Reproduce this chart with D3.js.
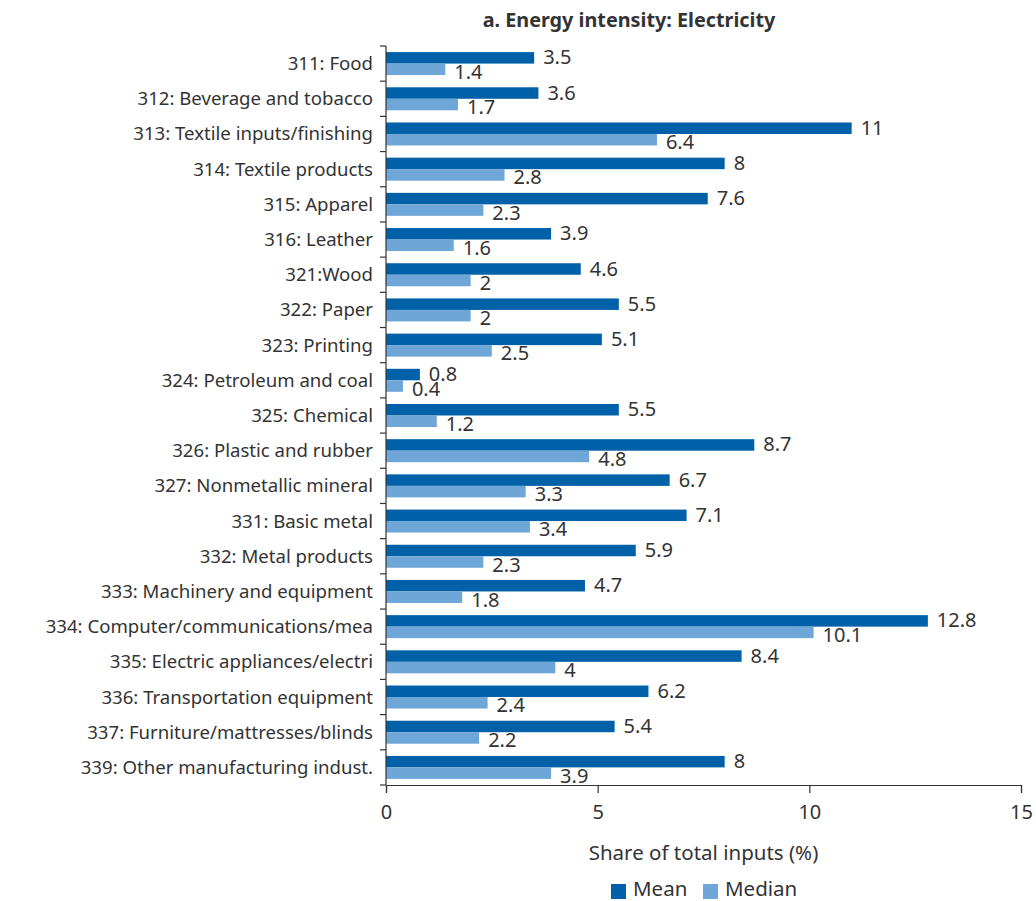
<!DOCTYPE html>
<html><head><meta charset="utf-8">
<script src="https://cdn.jsdelivr.net/npm/d3@7"></script>
<style>body{margin:0;background:#fff;} text{font-family:"Noto Sans",sans-serif;fill:#333;}</style>
</head><body><svg id="c" width="1036" height="901"></svg>
<script>
const categories = ["311: Food","312: Beverage and tobacco","313: Textile inputs/finishing","314: Textile products","315: Apparel","316: Leather","321:Wood","322: Paper","323: Printing","324: Petroleum and coal","325: Chemical","326: Plastic and rubber","327: Nonmetallic mineral","331: Basic metal","332: Metal products","333: Machinery and equipment","334: Computer/communications/mea","335: Electric appliances/electri","336: Transportation equipment","337: Furniture/mattresses/blinds","339: Other manufacturing indust."];
const meanValues = [3.5,3.6,11,8,7.6,3.9,4.6,5.5,5.1,0.8,5.5,8.7,6.7,7.1,5.9,4.7,12.8,8.4,6.2,5.4,8];
const medianValues = [1.4,1.7,6.4,2.8,2.3,1.6,2,2,2.5,0.4,1.2,4.8,3.3,3.4,2.3,1.8,10.1,4,2.4,2.2,3.9];
const seriesNames = ["Mean","Median"];
const seriesColors = ["#0061a8","#6fa6d8"];
const xTicks = [0,5,10,15];
const title = "a. Energy intensity: Electricity";
const xTitle = "Share of total inputs (%)";

const FS_CAT = 18.6, FS_VAL = 20, FS_AX = 20.5;
const svg = d3.select("#c");
const mLeft = 386, mRight = 1021, mTop = 46, mBottom = 785;
const x = d3.scaleLinear().domain([0,15]).range([mLeft,mRight]);
const y = d3.scaleBand().domain(categories).range([mTop,mBottom]).padding(0);
const y1 = d3.scaleBand().domain(seriesNames).range([0,y.bandwidth()]).paddingInner(0).paddingOuter(0.53);

const data = categories.map((c,i)=>({c, vals:[meanValues[i], medianValues[i]]}));

const g = svg.append("g");
const rows = g.selectAll("g.row").data(data).join("g").attr("transform",d=>`translate(0,${y(d.c)})`);
seriesNames.forEach((s,si)=>{
  rows.append("rect").attr("x",x(0)).attr("y",y1(s)).attr("width",d=>x(d.vals[si])-x(0)).attr("height",y1.bandwidth()).attr("fill",seriesColors[si]);
});
seriesNames.forEach((s,si)=>{
  rows.append("text").attr("x",d=>x(d.vals[si])+9).attr("y",y1(s)+y1.bandwidth()/2+(si===0?-0.5:2.5)).attr("dy","0.35em").attr("font-size",FS_VAL).text(d=>d.vals[si]);
});

// y axis
const ya = svg.append("g");
ya.append("line").attr("x1",mLeft).attr("x2",mLeft).attr("y1",mTop).attr("y2",mBottom).attr("stroke","#333").attr("stroke-width",1.2);
const bounds = categories.map(c=>y(c)).concat([mBottom]);
ya.selectAll("line.t").data(bounds).join("line").attr("class","t").attr("x1",mLeft-6).attr("x2",mLeft).attr("y1",d=>d).attr("y2",d=>d).attr("stroke","#333").attr("stroke-width",1.2);
ya.selectAll("text").data(categories).join("text").attr("x",mLeft-13).attr("y",d=>y(d)+y.bandwidth()/2).attr("dy","0.35em").attr("text-anchor","end").attr("font-size",FS_CAT).text(d=>d);

// x axis
const xa = svg.append("g").attr("transform",`translate(0,${mBottom})`)
  .call(d3.axisBottom(x).tickValues(xTicks).tickSize(8).tickPadding(12));
xa.select(".domain").attr("stroke","#333").attr("stroke-width",1.2);
xa.selectAll(".tick line").attr("stroke","#333").attr("stroke-width",1.2);
xa.selectAll(".tick text").attr("font-size",FS_VAL).attr("font-family","Noto Sans").attr("fill","#333");

svg.append("text").attr("x",(mLeft+mRight)/2).attr("y",860).attr("text-anchor","middle").attr("font-size",FS_AX).text(xTitle);
svg.append("text").attr("x",629).attr("y",27).attr("text-anchor","middle").attr("font-size",19.8).attr("font-weight","bold").text(title);

// legend
const leg = svg.append("g");
const legX = [611, 703];
seriesNames.forEach((s,i)=>{
  leg.append("rect").attr("x",legX[i]).attr("y",884).attr("width",15).attr("height",15).attr("fill",seriesColors[i]);
  leg.append("text").attr("x",legX[i]+22).attr("y",896).attr("font-size",FS_AX).text(s);
});
</script></body></html>
